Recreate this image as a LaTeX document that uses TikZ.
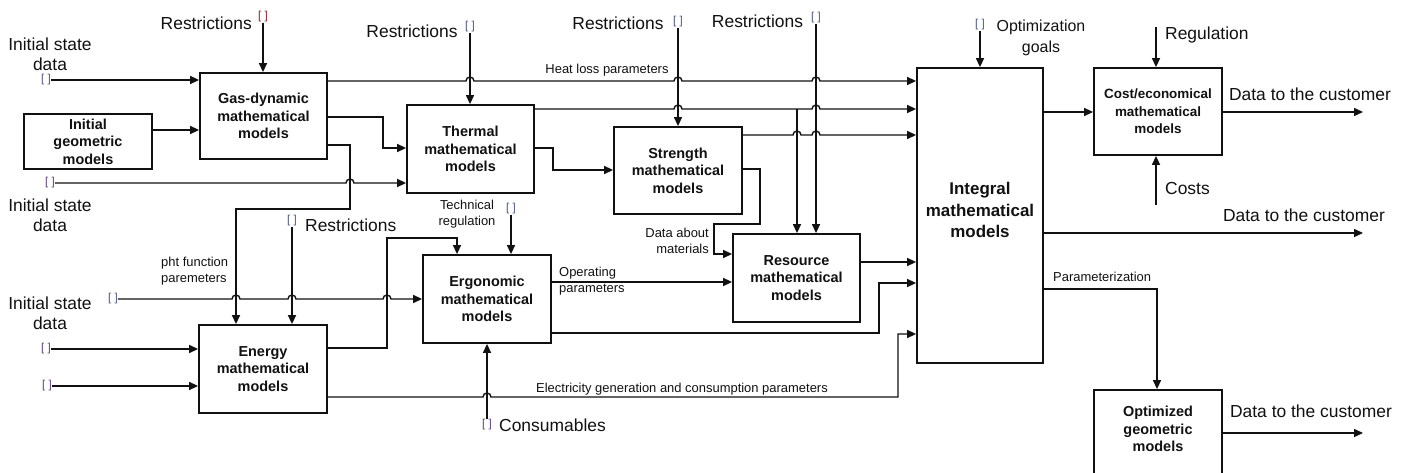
\documentclass[tikz,border=0pt]{standalone}
\usepackage{fontspec}
\setmainfont{Liberation Sans}
\usetikzlibrary{arrows.meta}
\definecolor{ink}{HTML}{111111}
\definecolor{brkred}{HTML}{8B1E2A}
\definecolor{brkblue}{HTML}{4A5580}
\definecolor{brkpurple}{HTML}{5E3C78}
% small bump where a horizontal wire jumps over a vertical one
\newcommand\hp[2]{-- ({#1-4},#2) arc[start angle=180,end angle=360,radius=4]}

\begin{document}
\begin{tikzpicture}[x=1bp,y=-1bp,
  model/.style={draw=ink, line width=1.8bp, fill=white, align=center, inner sep=0pt,
    text=ink, font=\bfseries\fontsize{14.5}{17.5}\selectfont},
  conn/.style={draw=ink, line width=1.4bp},
  arr/.style={conn, -{Triangle[length=9bp,width=8bp]}},
  big/.style={text=ink, font=\fontsize{17.5}{20}\selectfont, align=center, inner sep=0pt},
  small/.style={text=ink, font=\fontsize{13}{15.5}\selectfont, inner sep=0pt},
  brk/.style={font=\fontsize{11.5}{11.5}\selectfont, inner sep=0pt, text=brkblue},
]
\fill[white] (0,0) rectangle (1410,473);
\useasboundingbox (0,0) rectangle (1410,473);

% ---------- model blocks ----------
\node[model, minimum width=128bp, minimum height=55bp] (geo) at (88,141.5) {Initial\\geometric\\models};
\node[model, minimum width=127bp, minimum height=86bp] (gas) at (263.5,116) {Gas-dynamic\\mathematical\\models};
\node[model, minimum width=127bp, minimum height=88bp] (thermal) at (470.5,149) {Thermal\\mathematical\\models};
\node[model, minimum width=128bp, minimum height=87bp] (strength) at (678,170.5) {Strength\\mathematical\\models};
\node[model, minimum width=128bp, minimum height=88bp] (ergo) at (487,299) {Ergonomic\\mathematical\\models};
\node[model, minimum width=127bp, minimum height=88bp] (resource) at (796.5,278) {Resource\\mathematical\\models};
\node[model, minimum width=128bp, minimum height=88bp] (energy) at (263,369) {Energy\\mathematical\\models};
\node[model, minimum width=126bp, minimum height=295bp] (integral) at (980,215.5) {};
\node[text=ink, align=center, font=\bfseries\fontsize{17}{22}\selectfont] (integraltext) at (980,210) {Integral\\mathematical\\models};
\node[model, minimum width=128bp, minimum height=87bp, font=\bfseries\fontsize{13.5}{17.5}\selectfont] (cost) at (1158,111.5) {Cost/economical\\mathematical\\models};
\node[model, minimum width=128bp, minimum height=90bp] (optim) at (1158,435) {};
\node[text=ink, align=center, font=\bfseries\fontsize{14.5}{17.5}\selectfont] (optimtext) at (1158,429) {Optimized\\geometric\\models};

% ---------- external inputs: labels and brackets ----------
\node[big, anchor=east] (rt1) at (252,23) {Restrictions};
\node[brk, text=brkred] (rb1) at (263,17) {[ ]};
\node[big] (isd1) at (50,54.5) {Initial state\\data};
\node[brk] (ib1) at (46,80) {[ ]};
\node[brk, text=brkpurple] (ib2) at (50,183) {[ ]};
\node[big] (isd2) at (50,215) {Initial state\\data};
\node[big] (rt2) at (412,31) {Restrictions};
\node[brk] (rb2) at (470,27) {[ ]};
\node[big] (rt3) at (618,23) {Restrictions};
\node[brk] (rb3) at (678,22) {[ ]};
\node[big] (rt4) at (757.5,21) {Restrictions};
\node[brk] (rb4) at (816,18) {[ ]};
\node[small] (heat) at (607,70) {Heat loss parameters};
\node[small, align=center] (techt) at (467,214) {Technical\\regulation};
\node[brk] (tb) at (511,209) {[ ]};
\node[small, align=right, anchor=east] (datamat) at (709,241) {Data about\\materials};
\node[small, align=left, anchor=west] (oper) at (559,281) {Operating\\parameters};
\node[small, align=left, anchor=west] (pht) at (161,271) {pht function\\paremeters};
\node[brk] (rb5) at (292,221) {[ ]};
\node[big, anchor=west] (rt5) at (305,225) {Restrictions};
\node[brk] (ib3) at (113,299) {[ ]};
\node[big] (isd3) at (50,313) {Initial state\\data};
\node[brk, text=brkpurple] (eb1) at (46,349) {[ ]};
\node[brk, text=brkpurple] (eb2) at (47,386) {[ ]};
\node[small] (elec) at (682,389) {Electricity generation and consumption parameters};
\node[brk, text=brkpurple] (cb) at (487,425) {[ ]};
\node[big, anchor=west] (cons) at (499,425) {Consumables};
\node[brk] (ob) at (980,25) {[ ]};
\node[big, font=\fontsize{16}{21}\selectfont] (optg) at (1041,37.5) {Optimization\\goals};
\node[big, anchor=west] (regt) at (1165,35) {Regulation};
\node[big, anchor=west] (costt) at (1165,189) {Costs};
\node[big] (dc1) at (1310,94) {Data to the customer};
\node[big] (dc2) at (1304,215) {Data to the customer};
\node[big] (dc3) at (1311,411) {Data to the customer};
\node[small, anchor=west] (param) at (1053,277) {Parameterization};

\coordinate (regin) at (1156,27);
\coordinate (costin) at (1156,205);
\coordinate (out1) at (1363,112);
\coordinate (out2) at (1363,233);
\coordinate (out3) at (1363,433);

% ---------- horizontal wires (drawn first, with jumps) ----------
\draw[arr] (ib1.east) -- (ib1.east -| gas.west);
\draw[arr] (geo.east |- 0,130) -- (gas.west |- 0,130);
\draw[arr] (ib2.east) \hp{350}{183} -- (ib2.east -| thermal.west);
\draw[arr] (gas.east |- 0,81) \hp{470}{81} \hp{678}{81} \hp{816}{81} -- (integral.west |- 0,81);
\draw[arr] (gas.east |- 0,117) -- (383,117) -- (383,148) -- (thermal.west |- 0,148);
\draw[arr] (gas.east |- 0,145) -- (350,145) -- (350,209) -- (236,209) -- (energy.north -| 236,0);
\draw[arr] (thermal.east |- 0,109) \hp{678}{109} \hp{816}{109} -- (integral.west |- 0,109);
\coordinate (branch) at (797,109);
\draw[arr] (branch) -- (branch |- resource.north);
\draw[arr] (thermal.east |- 0,148) -- (553,148) -- (553,170) -- (strength.west |- 0,170);
\draw[arr] (strength.east |- 0,135) \hp{797}{135} \hp{816}{135} -- (integral.west |- 0,135);
\draw[arr] (strength.east |- 0,169) -- (760,169) -- (760,224) -- (714,224) -- (714,254) -- (resource.west |- 0,254);
\draw[arr] (resource.east |- 0,262) -- (integral.west |- 0,262);
\draw[arr] (ergo.east |- 0,282) -- (resource.west |- 0,282);
\draw[arr] (ergo.east |- 0,333) -- (879,333) -- (879,283) -- (integral.west |- 0,283);
\draw[arr] (energy.east |- 0,348) -- (387,348) -- (387,238) -- (457,238) -- (ergo.north -| 457,0);
\draw[arr] (ib3.east) \hp{236}{299} \hp{292}{299} \hp{387}{299} -- (ib3.east -| ergo.west);
\draw[arr] (eb1.east) -- (eb1.east -| energy.west);
\draw[arr] (eb2.east) -- (eb2.east -| energy.west);
\draw[arr] (energy.east |- 0,397) \hp{487}{397} -- (898,397) -- (898,334) -- (integral.west |- 0,334);

% ---------- vertical inputs ----------
\draw[arr] (rb1.south) -- (rb1.south |- gas.north);
\draw[arr] (rb2.south) -- (rb2.south |- thermal.north);
\draw[arr] (rb3.south) -- (rb3.south |- strength.north);
\draw[arr] (rb4.south) -- (rb4.south |- resource.north);
\draw[arr] (tb.south) -- (tb.south |- ergo.north);
\draw[arr] (rb5.south) -- (rb5.south |- energy.north);
\draw[arr] (cb.north) -- (cb.north |- ergo.south);
\draw[arr] (ob.south) -- (ob.south |- integral.north);
\draw[arr] (regin) -- (regin |- cost.north);
\draw[arr] (costin) -- (costin |- cost.south);

% ---------- outputs ----------
\draw[arr] (integral.east |- 0,112) -- (cost.west |- 0,112);
\draw[arr] (cost.east |- out1) -- (out1);
\draw[arr] (integral.east |- out2) -- (out2);
\draw[arr] (integral.east |- 0,289) -- (1157,289) -- (optim.north -| 1157,0);
\draw[arr] (optim.east |- out3) -- (out3);
\end{tikzpicture}
\end{document}
